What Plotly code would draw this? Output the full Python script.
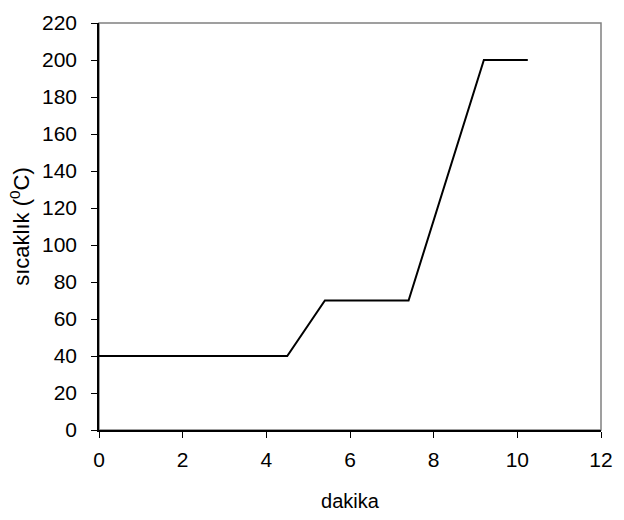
import plotly.graph_objects as go

# Heating programme: time (minutes) vs temperature (°C)
dakika = [0, 4.5, 5.4, 7.4, 9.2, 10.25]
sicaklik = [40, 40, 70, 70, 200, 200]

x_ticks = [0, 2, 4, 6, 8, 10, 12]
y_ticks = [0, 20, 40, 60, 80, 100, 120, 140, 160, 180, 200, 220]

font_family = "Liberation Sans, Arial, sans-serif"
fs = 21

fig = go.Figure()
fig.add_trace(go.Scatter(
    x=dakika, y=sicaklik, mode="lines",
    line=dict(color="black", width=2),
    showlegend=False, hoverinfo="skip",
))

# grey frame on the top/right of the plot area
fig.add_shape(type="rect", xref="paper", yref="paper", x0=0, y0=0, x1=1, y1=1,
              line=dict(color="#808080", width=1.5), layer="below")

fig.update_layout(
    width=624, height=520,
    margin=dict(l=99, r=11, t=15, b=87),
    paper_bgcolor="white", plot_bgcolor="white",
    font=dict(family=font_family, size=fs, color="black"),
    xaxis=dict(
        range=[0, 12], tickvals=x_ticks, ticktext=[str(v) for v in x_ticks],
        showgrid=False, zeroline=False, showline=True, linecolor="black", linewidth=1.5,
        ticks="outside", ticklen=6, tickcolor="black", tickwidth=1,
        tickfont=dict(size=fs), ticklabelstandoff=4, ticklabeloverflow="allow",
        title=dict(text="dakika", font=dict(size=20), standoff=24),
    ),
    yaxis=dict(
        range=[0, 220], tickvals=y_ticks, ticktext=[str(v) for v in y_ticks],
        showgrid=False, zeroline=False, showline=True, linecolor="black", linewidth=1.5,
        ticks="outside", ticklen=6, tickcolor="black", tickwidth=1,
        tickfont=dict(size=fs), ticklabelstandoff=10,
        title=dict(text="sıcaklık (<sup>0</sup>C)", font=dict(size=22), standoff=6),
    ),
)

fig.write_html("out.html")
